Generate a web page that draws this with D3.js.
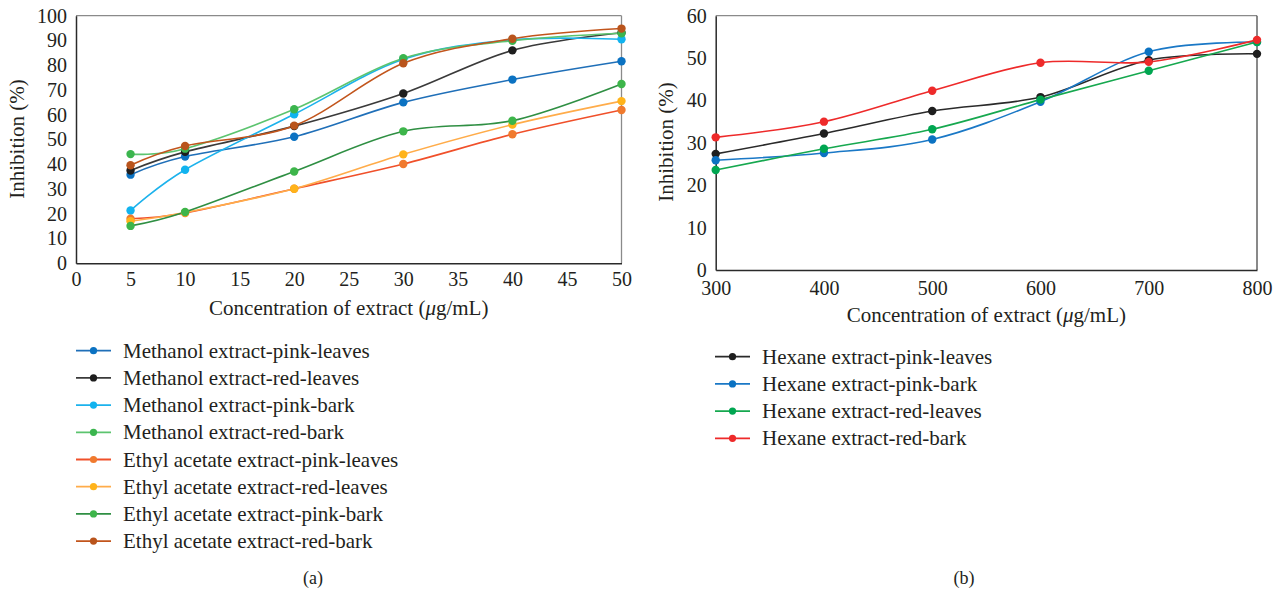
<!DOCTYPE html>
<html><head><meta charset="utf-8">
<script src="https://cdn.jsdelivr.net/npm/d3@7"></script>
<style>
html,body{margin:0;padding:0;background:#fff;}
svg text{font-family:"Liberation Serif","Times New Roman",serif;fill:#231f20;}
</style></head>
<body>
<svg id="c" width="1278" height="593"></svg>
<script>
// ---------- Data: panel (a) ----------
const concA = [5, 10, 20, 30, 40, 50];
const xTicksA = [0, 5, 10, 15, 20, 25, 30, 35, 40, 45, 50];
const yTicksA = [0, 10, 20, 30, 40, 50, 60, 70, 80, 90, 100];
const namesA = [
  "Methanol extract-pink-leaves",
  "Methanol extract-red-leaves",
  "Methanol extract-pink-bark",
  "Methanol extract-red-bark",
  "Ethyl acetate extract-pink-leaves",
  "Ethyl acetate extract-red-leaves",
  "Ethyl acetate extract-pink-bark",
  "Ethyl acetate extract-red-bark"
];
const methPinkLeaves = [35.8, 43.1, 51.1, 65.0, 74.2, 81.6];
const methRedLeaves  = [37.5, 45.0, 55.4, 68.6, 86.0, 93.1];
const methPinkBark   = [21.3, 37.8, 60.2, 82.4, 90.3, 90.5];
const methRedBark    = [44.1, 46.3, 62.2, 82.8, 89.9, 92.9];
const eaPinkLeaves   = [18.0, 20.3, 30.1, 40.1, 52.1, 61.9];
const eaRedLeaves    = [17.0, 20.5, 30.1, 44.0, 56.0, 65.5];
const eaPinkBark     = [15.1, 20.7, 37.1, 53.3, 57.6, 72.4];
const eaRedBark      = [39.6, 47.4, 55.6, 80.8, 90.7, 94.8];
const seriesA = [methPinkLeaves, methRedLeaves, methPinkBark, methRedBark,
                 eaPinkLeaves, eaRedLeaves, eaPinkBark, eaRedBark];
const lineColA   = ["#1f6fb8", "#3a3a3a", "#1cb2ec", "#5cc46f", "#f0502a", "#ffac4a", "#2f8f43", "#c2551c"];
const markColA   = ["#0b72c2", "#1e1e1e", "#11b3ef", "#3bb54e", "#f07a2e", "#ffb31a", "#3db54a", "#b9541c"];

// ---------- Data: panel (b) ----------
const concB = [300, 400, 500, 600, 700, 800];
const xTicksB = [300, 400, 500, 600, 700, 800];
const yTicksB = [0, 10, 20, 30, 40, 50, 60];
const namesB = [
  "Hexane extract-pink-leaves",
  "Hexane extract-pink-bark",
  "Hexane extract-red-leaves",
  "Hexane extract-red-bark"
];
const hexPinkLeaves = [27.4, 32.2, 37.5, 40.8, 49.5, 51.0];
const hexPinkBark   = [25.9, 27.6, 30.8, 39.7, 51.5, 53.8];
const hexRedLeaves  = [23.6, 28.6, 33.2, 40.2, 47.0, 53.8];
const hexRedBark    = [31.3, 35.0, 42.3, 48.9, 49.1, 54.3];
const seriesB = [hexPinkLeaves, hexPinkBark, hexRedLeaves, hexRedBark];
const lineColB = ["#2a2a2a", "#1a78c6", "#16a84f", "#ee2a2a"];
const markColB = ["#1e1e1e", "#0b72c2", "#00a651", "#ee2a2a"];

const svg = d3.select("#c");
const curve = d3.curveCardinal.tension(0);

function panel(o) {
  const g = svg.append("g");
  const x = d3.scaleLinear().domain(o.xDom).range([o.left, o.right]);
  const y = d3.scaleLinear().domain(o.yDom).range([o.bottom, o.top]);

  // frame
  g.append("line").attr("x1", o.left).attr("x2", o.right).attr("y1", o.top).attr("y2", o.top)
    .attr("stroke", "#8a8a8a").attr("stroke-width", 1.3);
  g.append("line").attr("x1", o.right).attr("x2", o.right).attr("y1", o.top).attr("y2", o.bottom)
    .attr("stroke", o.rightCol).attr("stroke-width", 1.3);

  // axes using d3 axis generators (no tick marks)
  const ax = g.append("g").attr("transform", `translate(0,${o.bottom})`)
    .call(d3.axisBottom(x).tickValues(o.xTicks).tickSize(0).tickPadding(o.xPad).tickFormat(d3.format("d")));
  const ay = g.append("g").attr("transform", `translate(${o.left},0)`)
    .call(d3.axisLeft(y).tickValues(o.yTicks).tickSize(0).tickPadding(9).tickFormat(d3.format("d")));
  [ax, ay].forEach(a => {
    a.attr("font-family", null);
    a.select(".domain").attr("stroke", "#2a2a2a").attr("stroke-width", 1.5);
    a.selectAll("text").attr("font-size", 20).attr("font-family", "Liberation Serif").attr("fill", "#231f20");
  });

  // series
  o.series.forEach((s, i) => {
    const pts = s.map((v, j) => [o.xs[j], v]);
    g.append("path").datum(pts)
      .attr("fill", "none").attr("stroke", o.lineCol[i]).attr("stroke-width", 1.6)
      .attr("d", d3.line().x(d => x(d[0])).y(d => y(d[1])).curve(curve));
  });
  o.series.forEach((s, i) => {
    g.selectAll(null).data(s).enter().append("circle")
      .attr("cx", (d, j) => x(o.xs[j])).attr("cy", d => y(d))
      .attr("r", 4.2).attr("fill", o.markCol[i]);
  });

  // axis titles
  g.append("text").attr("x", (o.left + o.right) / 2).attr("y", o.xTitleY)
    .attr("text-anchor", "middle").attr("font-size", 21)
    .html('Concentration of extract (<tspan font-style="italic">μ</tspan>g/mL)');
  g.append("text").attr("transform", `translate(${o.yTitleX},${o.yTitleCY}) rotate(-90)`)
    .attr("text-anchor", "middle").attr("font-size", 21).text("Inhibition (%)");

  // legend
  const lg = g.append("g");
  o.names.forEach((n, i) => {
    const cy = o.legY + i * 27.2;
    lg.append("line").attr("x1", o.legX).attr("x2", o.legX + 35).attr("y1", cy).attr("y2", cy)
      .attr("stroke", o.lineCol[i]).attr("stroke-width", 1.8);
    lg.append("circle").attr("cx", o.legX + 17.5).attr("cy", cy).attr("r", 3.6).attr("fill", o.markCol[i]);
    lg.append("text").attr("x", o.legX + 47).attr("y", cy + 7).attr("font-size", 21).text(n);
  });

  // caption
  g.append("text").attr("x", o.capX).attr("y", 584).attr("text-anchor", "middle")
    .attr("font-size", 18).text(o.cap);
}

panel({
  xDom: [0, 50], yDom: [0, 100], left: 76, right: 621.5, top: 15.7, bottom: 263.3,
  xTicks: xTicksA, yTicks: yTicksA, xs: concA, series: seriesA, names: namesA,
  lineCol: lineColA, markCol: markColA, rightCol: "#8a8a8a", xPad: 9,
  xTitleY: 315, yTitleX: 24, yTitleCY: 139, legX: 76, legY: 350.7, capX: 313, cap: "(a)"
});
panel({
  xDom: [300, 800], yDom: [0, 60], left: 715.7, right: 1257, top: 15.7, bottom: 270,
  xTicks: xTicksB, yTicks: yTicksB, xs: concB, series: seriesB, names: namesB,
  lineCol: lineColB, markCol: markColB, rightCol: "#4a4a4a", xPad: 11,
  xTitleY: 322, yTitleX: 673, yTitleCY: 142, legX: 715, legY: 356.7, capX: 964, cap: "(b)"
});
</script>
</body></html>
